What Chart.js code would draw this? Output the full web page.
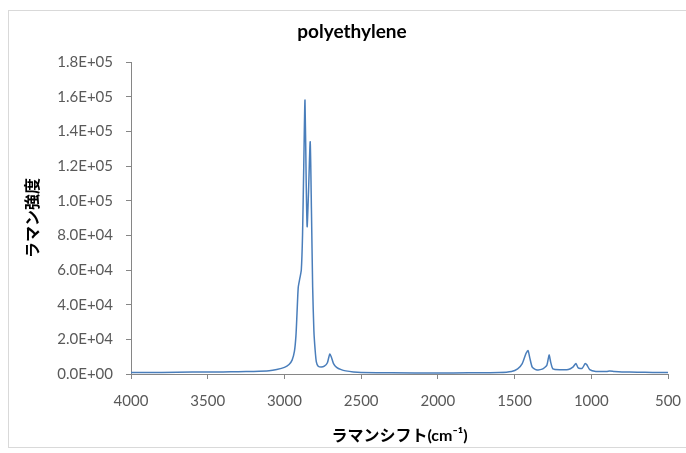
<!DOCTYPE html>
<html>
<head>
<meta charset="utf-8">
<script src="https://cdn.jsdelivr.net/npm/chart.js@4.4.1/dist/chart.umd.min.js"></script>
<style>
  html, body { margin: 0; padding: 0; background: #fff; }
  #wrap { width: 686px; height: 453px; }
</style>
</head>
<body>
<div id="wrap"><canvas id="ramanChart" width="686" height="453"></canvas></div>
<script>
// Raman shift (cm-1) and intensity
const shifts = [4000, 3800, 3600, 3400, 3300, 3200, 3100, 3050, 3000, 2970, 2950, 2935, 2925, 2918,
  2910, 2900, 2890, 2882, 2874, 2866, 2858, 2852, 2843, 2832, 2824, 2816, 2808, 2800, 2792, 2780,
  2760, 2740, 2720, 2705, 2695, 2680, 2660, 2630, 2600, 2550, 2500, 2300, 2000, 1800, 1600, 1520,
  1480, 1450, 1425, 1412, 1400, 1385, 1360, 1320, 1290, 1275, 1265, 1250, 1200, 1150, 1120, 1100,
  1085, 1060, 1040, 1030, 1010, 970, 900, 880, 850, 800, 700, 600, 500];
const intensity = [800, 900, 1100, 1200, 1300, 1500, 1900, 2600, 3800, 5500, 8000, 13000, 22000, 35000,
  50000, 55000, 60000, 80000, 120000, 158000, 110000, 85000, 105000, 134000, 95000, 50000, 25000, 14000, 7000, 4500,
  4000, 4500, 6500, 11500, 10000, 6000, 3800, 2500, 1800, 1200, 900, 700, 600, 700, 900, 1500,
  3000, 6000, 12000, 13500, 9000, 4000, 2500, 2800, 5000, 11000, 7000, 3000, 2500, 2600, 4000, 6000,
  3500, 3200, 6000, 5500, 2500, 1500, 1500, 1800, 1500, 1200, 1000, 900, 800];
const xTicks = [4000, 3500, 3000, 2500, 2000, 1500, 1000, 500];
const yTicks = [0, 20000, 40000, 60000, 80000, 100000, 120000, 140000, 160000, 180000];

function sciLabel(v) {
  const [m, e] = Number(v).toExponential(1).split('e');
  const n = Math.abs(parseInt(e, 10));
  return m + 'E' + (parseInt(e, 10) < 0 ? '-' : '+') + (n < 10 ? '0' + n : n);
}

const fontFamily = "Lato, 'Noto Sans CJK JP', sans-serif";

// white background, light frame and the chart title (centred on the whole frame, like the original)
const frame = {
  id: 'frame',
  beforeDraw(chart) {
    const c = chart.ctx;
    c.save();
    c.fillStyle = '#ffffff';
    c.fillRect(0, 0, chart.width, chart.height);
    c.strokeStyle = '#d9d9d9';
    c.lineWidth = 1;
    c.strokeRect(8.5, 10.5, 690, 437);
    c.restore();
  },
  afterDraw(chart) {
    const c = chart.ctx;
    c.save();
    c.fillStyle = '#000';
    c.font = "bold 19px " + fontFamily;
    c.textAlign = 'center';
    c.textBaseline = 'middle';
    c.fillText('polyethylene', 352, 32);
    c.restore();
  }
};

const ctx = document.getElementById('ramanChart').getContext('2d');
new Chart(ctx, {
  type: 'line',
  data: {
    datasets: [{
      data: shifts.map((s, i) => ({ x: s, y: intensity[i] })),
      borderColor: '#4a7ebb',
      borderWidth: 1.5,
      pointRadius: 0,
      tension: 0.2,
      fill: false
    }]
  },
  options: {
    responsive: false,
    animation: false,
    layout: { padding: { left: 10, right: 18, top: 10, bottom: 8 } },
    plugins: {
      legend: { display: false },
      tooltip: { enabled: false },
      title: {
        display: true,
        text: 'polyethylene',
        color: 'rgba(0,0,0,0)',
        font: { family: fontFamily, size: 15, weight: 'bold' },
        padding: { top: 12, bottom: 22 }
      }
    },
    scales: {
      x: {
        type: 'linear',
        reverse: true,
        min: 500,
        max: 4000,
        afterBuildTicks: s => { s.ticks = xTicks.map(v => ({ value: v })); },
        afterFit: s => { s.height = 71; s.paddingLeft = 0; s.paddingRight = 0; },
        ticks: {
          color: '#595959',
          font: { family: fontFamily, size: 15 },
          padding: 13,
          maxRotation: 0,
          callback: v => String(v)
        },
        grid: { display: true, drawOnChartArea: false, drawTicks: true, tickLength: 5, color: '#868686' },
        border: { display: true, color: '#868686' },
        title: {
          display: true,
          text: 'ラマンシフト(cm⁻¹)',
          color: '#000',
          font: { family: fontFamily, size: 16, weight: 'bold' },
          padding: { top: 4, bottom: 0 }
        }
      },
      y: {
        min: 0,
        max: 180000,
        afterBuildTicks: s => { s.ticks = yTicks.map(v => ({ value: v })); },
        afterFit: s => { s.width = 121; },
        ticks: { color: '#595959', font: { family: fontFamily, size: 15 }, padding: 13, callback: v => sciLabel(v) },
        grid: { display: true, drawOnChartArea: false, drawTicks: true, tickLength: 5, color: '#868686' },
        border: { display: true, color: '#868686' },
        title: {
          display: true,
          text: 'ラマン強度',
          color: '#000',
          font: { family: fontFamily, size: 16, weight: 'bold' },
          padding: { top: 13, bottom: 0 }
        }
      }
    }
  },
  plugins: [frame]
});
</script>
</body>
</html>
